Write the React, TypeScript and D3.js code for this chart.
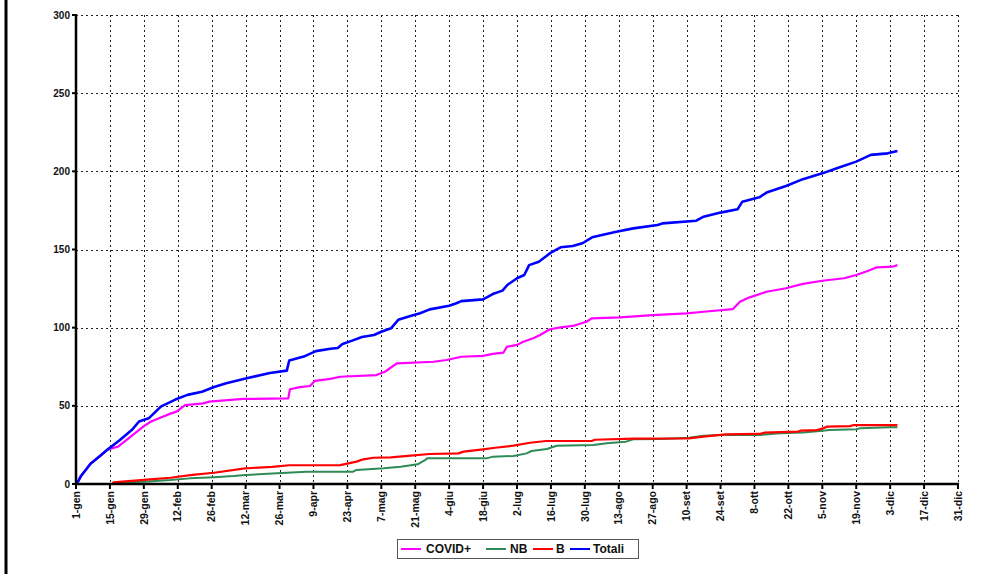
import React from "react";
import * as d3 from "d3";

// ---- data (day of year, 0 = 1 gen) ----
const tickLabels = [
  "1-gen", "15-gen", "29-gen", "12-feb", "26-feb", "12-mar", "26-mar", "9-apr", "23-apr",
  "7-mag", "21-mag", "4-giu", "18-giu", "2-lug", "16-lug", "30-lug", "13-ago", "27-ago",
  "10-set", "24-set", "8-ott", "22-ott", "5-nov", "19-nov", "3-dic", "17-dic", "31-dic",
];
const yTicks = [0, 50, 100, 150, 200, 250, 300];

const totaliDays = [0, 1, 2, 6, 10, 13, 18, 23, 26, 30, 35, 41, 46, 52, 57, 62, 70, 80, 87, 88, 94, 99, 105, 108, 110, 114, 118, 123, 126, 130, 133, 138, 142, 146, 154, 157, 159, 168, 172, 176, 178, 182, 185, 187, 191, 196, 200, 205, 209, 213, 223, 230, 240, 242, 256, 259, 266, 273, 275, 282, 285, 293, 300, 308, 314, 322, 328, 335, 339];
const totaliVals = [0, 2, 5, 13, 18, 22, 28, 34.5, 40, 42, 49.5, 54, 57, 59, 62, 64.5, 67.5, 71, 72.5, 79, 81.5, 85, 86.5, 87, 89.5, 91.7, 94, 95.3, 97.4, 99.6, 105, 107.5, 109.2, 111.7, 114, 115.6, 117, 118.1, 121.5, 123.7, 127.3, 131.6, 133.7, 140, 142.2, 148, 151.4, 152.2, 154, 157.8, 161.4, 163.5, 165.7, 166.7, 168.4, 171, 173.6, 175.7, 180.6, 183.4, 186.4, 190.6, 195, 198.7, 202, 206.2, 210.5, 211.5, 213];

const covidDays = [0, 1, 2, 6, 10, 13, 17.5, 24, 28, 31, 35, 39, 41.5, 45, 52.5, 55, 69, 87.6, 88.3, 92.4, 96.6, 98.6, 105, 109, 124, 127.5, 132.4, 147.5, 153, 159, 168, 172, 176.4, 177.8, 182, 184.6, 188.7, 191.5, 195.6, 200, 205, 210.7, 212.8, 224.5, 238, 252, 259, 271, 274, 278, 285, 293, 300, 308, 317, 322, 327, 330.5, 337, 339];
const covidVals = [0, 2, 5, 13, 18, 22, 24, 32, 37, 40, 42.6, 45, 46.3, 50.5, 51.6, 52.7, 54.4, 54.8, 60.6, 62, 62.7, 66, 67.2, 68.6, 69.7, 71.8, 77.2, 78.2, 79.3, 81.4, 82, 83.2, 84, 87.8, 89, 91, 93.2, 95.3, 99, 100.2, 101.1, 103.8, 106, 106.6, 108, 109.2, 110.2, 111.8, 116.6, 119.4, 123, 125.2, 128, 130, 131.6, 133.7, 136.4, 138.6, 139, 140];

const bDays = [0, 15, 15.5, 23, 30.5, 39, 48, 57, 69.7, 81, 88, 109, 115.8, 118.6, 122.7, 130, 137, 146, 157.8, 160, 168, 173, 180.5, 187.4, 194, 212.8, 214.2, 230, 253, 257, 268, 282, 284, 298, 299, 305.7, 308.4, 310, 319.4, 321, 339];
const bVals = [0, 0, 1, 2, 3, 4, 5.8, 7.2, 10, 11, 12, 12.1, 14.3, 15.8, 16.8, 17, 18, 19.2, 19.6, 20.7, 22.2, 23.2, 24.5, 26.4, 27.5, 27.5, 28.3, 29, 29.2, 30, 31.8, 32, 32.8, 33.5, 34.1, 34.5, 35.6, 36.7, 37, 37.7, 37.7];

const nbDays = [0, 16, 16.5, 28, 39, 47, 57, 65, 70, 83, 95, 114.4, 115.8, 127, 134, 141, 144, 145, 169.5, 172, 180.5, 186, 188, 194.3, 198.4, 213.5, 219, 227, 230, 241, 253, 259, 266, 282, 290.5, 300, 307, 311, 322, 323.5, 336, 339];
const nbVals = [0, 0, 1, 1.5, 2.5, 3.6, 4.3, 5.1, 5.8, 6.8, 7.9, 7.9, 9, 10, 11, 12.6, 15.3, 16.4, 16.4, 17.5, 17.9, 19.6, 21.1, 22.4, 24.5, 24.9, 26, 27.1, 28.6, 28.8, 29.6, 30.9, 31.3, 31.3, 32.4, 33, 33.9, 34.5, 35, 35.6, 36.3, 36.3];

const seriesNames = ["COVID+", "NB", "B", "Totali"];
const seriesColors = ["#ff00ff", "#2e8b57", "#ff0000", "#0000ff"];

const W = 981;
const H = 574;
const FONT = "'Liberation Sans', Arial, sans-serif";

export default function App() {
  const x = d3.scaleLinear().domain([0, 364]).range([76, 958]);
  const y = d3.scaleLinear().domain([0, 300]).range([484, 15]);
  const tickDays = tickLabels.map((_, i) => i * 14);

  const series = [
    { days: covidDays, vals: covidVals, w: 2.2 },
    { days: nbDays, vals: nbVals, w: 2 },
    { days: bDays, vals: bVals, w: 2.2 },
    { days: totaliDays, vals: totaliVals, w: 2.6 },
  ];

  const line = d3
    .line<[number, number]>()
    .x((d) => x(d[0]))
    .y((d) => y(d[1]))
    .curve(d3.curveLinear);

  const legendItems = [
    { lx: 401, tx: 426 },
    { lx: 486, tx: 510 },
    { lx: 533, tx: 556 },
    { lx: 570, tx: 593 },
  ];

  return (
    <svg
      width={W}
      height={H}
      style={{ position: "absolute", left: 0, top: 0, background: "#fff" }}
      fontFamily={FONT}
    >
      <rect x={0} y={0} width={W} height={H} fill="#fff" />
      {/* left frame */}
      <line x1={6} x2={6} y1={0} y2={H} stroke="#000" strokeWidth={3} />

      {/* grid */}
      {yTicks.slice(1).map((t) => (
        <line
          key={"gy" + t}
          x1={x(0)}
          x2={x(364)}
          y1={Math.round(y(t)) + 0.5}
          y2={Math.round(y(t)) + 0.5}
          stroke="#222"
          strokeWidth={1}
          strokeDasharray="2 3"
        />
      ))}
      {tickDays.slice(1).map((d) => (
        <line
          key={"gx" + d}
          x1={Math.round(x(d)) + 0.5}
          x2={Math.round(x(d)) + 0.5}
          y1={y(300)}
          y2={y(0)}
          stroke="#222"
          strokeWidth={1}
          strokeDasharray="2 3"
        />
      ))}

      {/* series */}
      {series.map((s, i) => (
        <path
          key={seriesNames[i]}
          d={line(s.days.map((d, j) => [d, s.vals[j]] as [number, number])) || ""}
          fill="none"
          stroke={seriesColors[i]}
          strokeWidth={s.w}
          strokeLinejoin="round"
        />
      ))}

      {/* axes */}
      <line x1={x(0)} x2={x(0)} y1={y(300) - 1} y2={y(0) + 1} stroke="#000" strokeWidth={2.5} />
      <line x1={x(0) - 1} x2={x(364) + 1} y1={y(0)} y2={y(0)} stroke="#000" strokeWidth={2.5} />
      {yTicks.map((t) => (
        <g key={"yt" + t}>
          <line x1={x(0) - 4} x2={x(0)} y1={y(t)} y2={y(t)} stroke="#000" strokeWidth={2} />
          <text
            x={x(0) - 6}
            y={y(t)}
            dy="0.35em"
            textAnchor="end"
            fontSize={10}
            fontWeight="bold"
            fill="#111"
          >
            {t}
          </text>
        </g>
      ))}
      {tickDays.map((d, i) => (
        <g key={"xt" + d}>
          <line x1={x(d)} x2={x(d)} y1={y(0)} y2={y(0) + 5} stroke="#000" strokeWidth={2} />
          <text
            transform={`translate(${x(d)},${y(0) + 7}) rotate(-90)`}
            dy="0.35em"
            textAnchor="end"
            fontSize={10.5}
            fontWeight="bold"
            fill="#111"
          >
            {tickLabels[i]}
          </text>
        </g>
      ))}

      {/* legend */}
      <rect x={397.5} y={539.5} width={241} height={19} fill="#fff" stroke="#555" strokeWidth={1} />
      {seriesNames.map((n, i) => (
        <g key={"lg" + n}>
          <line
            x1={legendItems[i].lx}
            x2={legendItems[i].lx + 20}
            y1={549}
            y2={549}
            stroke={seriesColors[i]}
            strokeWidth={2}
          />
          <text
            x={legendItems[i].tx}
            y={549}
            dy="0.36em"
            fontSize={12}
            fontWeight="bold"
            fill="#111"
          >
            {n}
          </text>
        </g>
      ))}
    </svg>
  );
}
